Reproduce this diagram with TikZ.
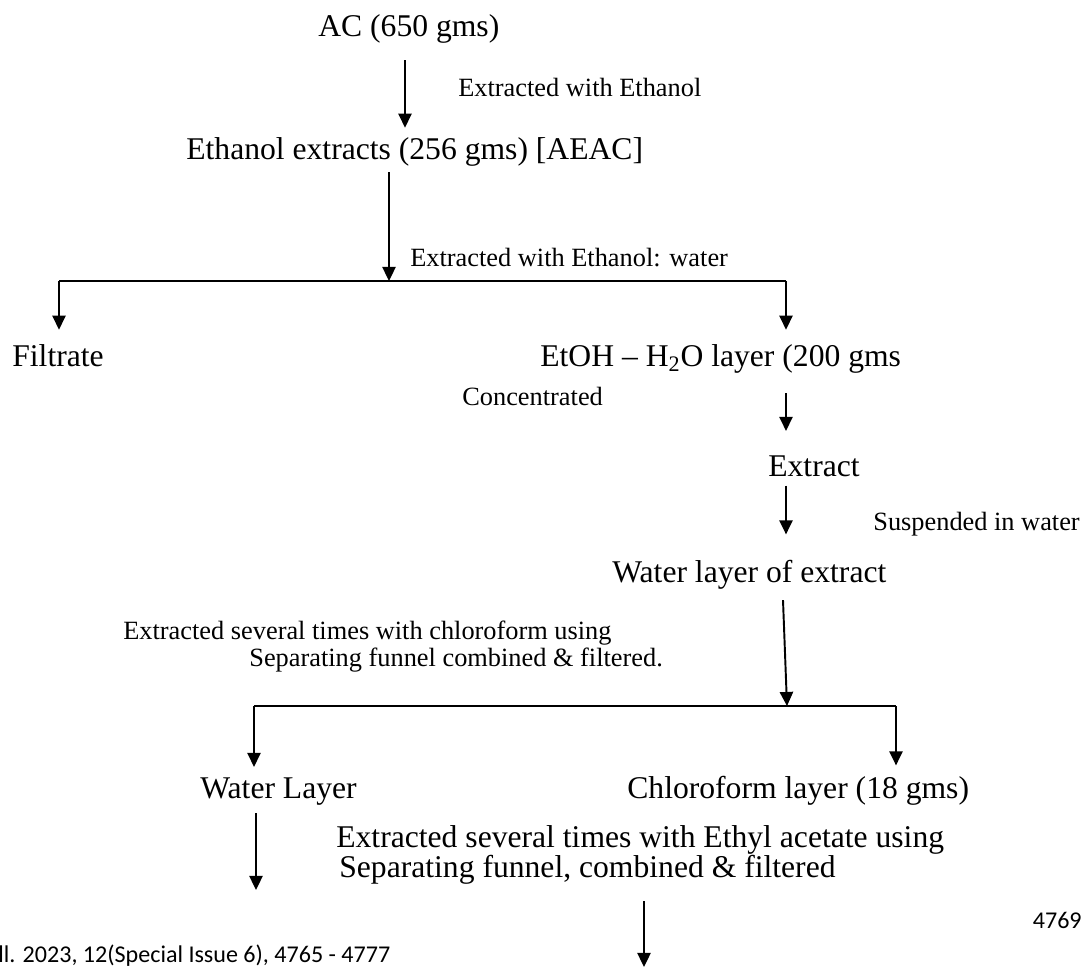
\documentclass[tikz,border=0pt]{standalone}
\usepackage{fontspec}
\setmainfont{Liberation Serif}
\newfontfamily\calfont{Carlito}
\usetikzlibrary{arrows.meta,calc}

\begin{document}
\begin{tikzpicture}[x=0.02cm, y=-0.02cm]
\tikzstyle{big} = [font=\fontsize{18}{22}\selectfont, inner sep=0pt, anchor=base west]
\tikzstyle{note} = [font=\fontsize{15}{18}\selectfont, inner sep=0pt, anchor=base west]
\tikzstyle{foot} = [font=\calfont\fontsize{13.7}{16}\selectfont, inner sep=0pt]
\tikzstyle{line} = [line width=1.1pt]
\tikzstyle{arrow} = [line, -{Triangle[width=7.5pt,length=8pt]}]

\useasboundingbox (0,0) rectangle (1085,969);

% upper part
\node[big] (ac) at (318,37) {AC (650 gms)};
\node[note] (lab1) at (458,97) {Extracted with Ethanol};
\node[big] (ethext) at (186,160) {Ethanol extracts (256 gms) [AEAC]};
\node[note] (lab2) at (410,267) {Extracted with Ethanol: water};
\node[big] (filtrate) at (12,367) {Filtrate};
\node[big] (etoh) at (540,367) {EtOH – H\textsubscript{2}O layer (200 gms};
\node[note] (conc) at (462,405) {Concentrated};
\node[big] (extract) at (768,476) {Extract};
\node[note] (susp) at (873,530) {Suspended in water};
\node[big] (wlext) at (612,582) {Water layer of extract};

% lower part
\node[note] (chl1) at (123,639) {Extracted several times with chloroform using};
\node[note] (chl2) at (249,666) {Separating funnel combined \& filtered.};
\node[big] (wlayer) at (200,798) {Water Layer};
\node[big] (chlayer) at (627,798) {Chloroform layer (18 gms)};
\node[big] (ea1) at (336,847) {Extracted several times with Ethyl acetate using};
\node[big] (ea2) at (339,877) {Separating funnel, combined \& filtered};
\node[foot, anchor=base east] (pageno) at (1082,928) {4769};
\node[foot, anchor=base west] (footer) at (-2,962) {ll. 2023, 12(Special Issue 6), 4765 - 4777};

% columns and split points
\coordinate (x1) at (405,0);
\coordinate (x2) at (786,0);
\coordinate (x3) at (783,0);
\coordinate (x4) at (256,0);
\coordinate (x5) at (644,0);
\coordinate (j1) at (389,281);
\coordinate (l1) at (59,281);
\coordinate (r1) at (786,281);
\coordinate (j2) at (787,706);
\coordinate (l2) at (254,706);
\coordinate (r2) at (896,706);
\coordinate (wend) at (256,890);
\coordinate (bend) at (644,967);

\draw[arrow] ($(ac.south -| x1)+(0,16)$) -- ($(ethext.north -| x1)+(0,-10)$);
\draw[arrow] ($(ethext.south -| j1)+(0,5)$) -- (j1);
\draw[line] (l1) -- (r1);
\draw[arrow] (l1) -- ($(filtrate.north -| l1)+(0,-15)$);
\draw[arrow] (r1) -- ($(etoh.north -| r1)+(0,-15)$);
\draw[arrow] ($(etoh.south -| x2)+(0,19)$) -- ($(extract.north -| x2)+(0,-24)$);
\draw[arrow] ($(extract.south -| x2)+(0,9)$) -- ($(wlext.north -| x2)+(0,-25)$);
\draw[arrow] ($(wlext.south -| x3)+(0,11)$) -- (j2);
\draw[line] (l2) -- (r2);
\draw[arrow] (l2) -- ($(wlayer.north -| l2)+(0,-10)$);
\draw[arrow] (r2) -- ($(chlayer.north -| r2)+(0,-10)$);
\draw[arrow] ($(wlayer.south -| x4)+(0,8)$) -- (wend);
\draw[arrow] ($(ea2.south -| x5)+(0,17)$) -- (bend);
\end{tikzpicture}
\end{document}
